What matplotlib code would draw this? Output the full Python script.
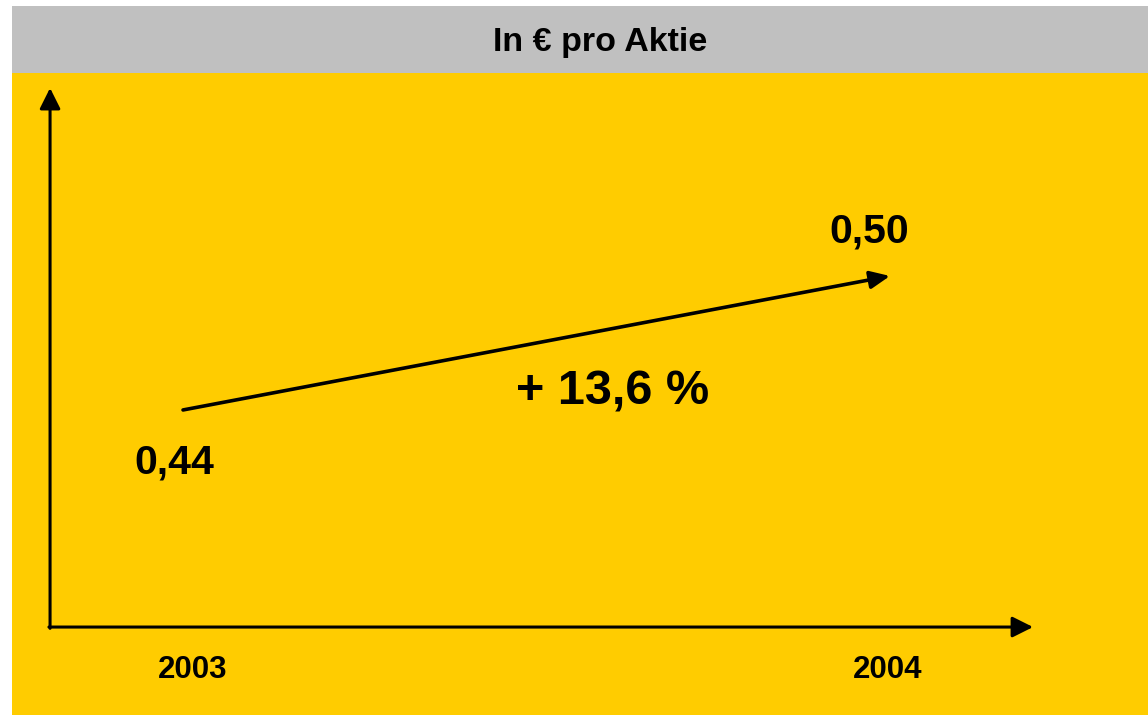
import matplotlib.pyplot as plt
from matplotlib.patches import Rectangle
from matplotlib.transforms import blended_transform_factory

plt.rcParams['font.family'] = ['Liberation Sans', 'DejaVu Sans']

years = ["2003", "2004"]
values = [0.44, 0.50]
value_labels = ["0,44", "0,50"]
title = "In € pro Aktie"

YELLOW = "#FFCC00"
GRAY = "#C0C0C0"

W, H = 1148, 715
fig = plt.figure(figsize=(W / 100, H / 100), dpi=100, facecolor="white")

# grey header band
fig.patches.append(Rectangle((12 / W, (H - 73) / H), 1136 / W, 67 / H,
                             transform=fig.transFigure, facecolor=GRAY,
                             edgecolor="none", zorder=0))
fig.text(600 / W, (H - 42) / H, title, ha="center", va="center",
         fontsize=24.5, fontweight="bold")

# yellow plot area
ax = fig.add_axes([12 / W, 0, 1136 / W, 642 / H])
ax.set_facecolor(YELLOW)
ax.set_xlim(-0.2419, 1.365)
ax.set_ylim(0.3034, 0.5909)
ax.axis("off")
ax.add_patch(Rectangle((0, 0), 1, 1, transform=ax.transAxes,
                       facecolor=YELLOW, edgecolor="none", zorder=0))

# axis arrows
ox, oy = 0.0335, 0.137
axis_style = dict(arrowstyle="-|>,head_length=0.9,head_width=0.45",
                  mutation_scale=14, lw=2.2, color="black",
                  shrinkA=0, shrinkB=0)
ax.annotate("", xy=(ox, 0.9766), xytext=(ox, oy - 0.002),
            xycoords="axes fraction", arrowprops=axis_style)
ax.annotate("", xy=(0.8988, oy), xytext=(ox - 0.001, oy),
            xycoords="axes fraction", arrowprops=axis_style)

# growth arrow
xs = list(range(len(values)))
ax.annotate("", xy=(xs[1], values[1]), xytext=(xs[0], values[0]),
            arrowprops=dict(arrowstyle="-|>,head_length=0.85,head_width=0.38",
                            mutation_scale=14, lw=2.6, color="black",
                            shrinkA=0, shrinkB=0))

# value labels
ax.annotate(value_labels[0], xy=(xs[0], values[0]), xytext=(-6, -38),
            textcoords="offset points", ha="center", va="center",
            fontsize=29.5, fontweight="bold")
ax.annotate(value_labels[1], xy=(xs[1], values[1]), xytext=(-15, 32),
            textcoords="offset points", ha="center", va="center",
            fontsize=29.5, fontweight="bold")

# change label
pct = (values[1] / values[0] - 1) * 100
pct_txt = "+ " + f"{pct:.1f}".replace(".", ",") + " %"
mid = ((xs[0] + xs[1]) / 2, (values[0] + values[1]) / 2)
ax.annotate(pct_txt, xy=mid, xytext=(55, -35.5), textcoords="offset points",
            ha="center", va="center", fontsize=35, fontweight="bold")

# year labels
trans = blended_transform_factory(ax.transData, ax.transAxes)
ax.text(xs[0] + 0.014, 0.0705, years[0], transform=trans, ha="center",
        va="center", fontsize=22.5, fontweight="bold")
ax.text(xs[1] - 0.004, 0.0705, years[1], transform=trans, ha="center",
        va="center", fontsize=22.5, fontweight="bold")

fig.savefig("out.png", dpi=100, facecolor="white")
